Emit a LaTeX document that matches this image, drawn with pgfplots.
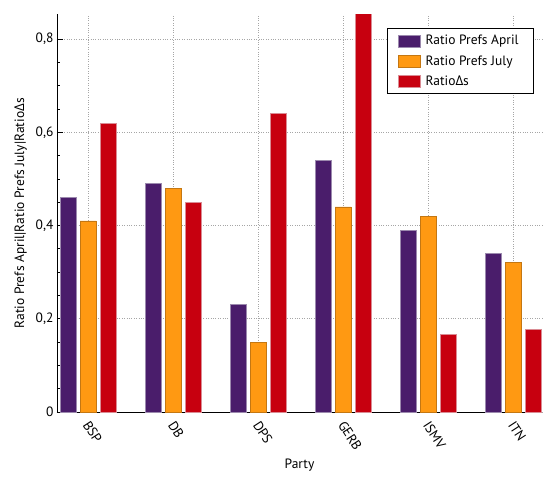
\documentclass[border=0pt]{standalone}
\usepackage{fontspec}
\setmainfont{PT Sans}
\newfontfamily\grk{Open Sans}
\usepackage{pgfplots}
\pgfplotsset{compat=1.18}
\definecolor{cpur}{HTML}{4A1D6B}
\definecolor{cora}{HTML}{FF9912}
\definecolor{cred}{HTML}{C7000F}
\definecolor{bpur}{HTML}{9C8AAE}
\definecolor{bora}{HTML}{C47712}
\definecolor{bred}{HTML}{DA8C94}
\begin{document}
\begin{tikzpicture}[font=\fontsize{13.5}{16}\selectfont]
\useasboundingbox (-57pt,-65pt) rectangle (503pt,412pt);
\begin{axis}[
  at={(0,0)}, anchor=south west,
  scale only axis, width=485pt, height=397.5pt,
  axis x line=bottom, axis y line=left,
  axis line style={-, line width=0.9pt},
  xmin=-0.365, xmax=5.34,
  ymin=0, ymax=0.853,
  ybar=4pt, bar width=16pt,
  xtick={0,1,2,3,4,5},
  xticklabels={BSP,DB,DPS,GERB,ISMV,ITN},
  xticklabel style={xshift=-3.5pt, yshift=-7.5pt, rotate=-57, anchor=west},
  ytick={0,0.2,0.4,0.6,0.8},
  minor y tick num=3,
  tick align=inside,
  major tick length=6pt, minor tick length=3pt,
  tick style={black, line width=0.8pt},
  /pgf/number format/use comma,
  /pgf/number format/assume math mode=true,
  grid=major,
  major grid style={dotted, gray!70, line width=0.7pt},
  xlabel={Party},
  ylabel={Ratio Prefs April|Ratio Prefs July|Ratio{\grk Δ}s},
  xlabel style={at={(axis description cs:0.5,0)}, anchor=north, yshift=-43pt},
  ylabel style={yshift=2pt},
  legend style={at={(1,1)}, anchor=north east, xshift=-8pt, yshift=-13.5pt,
    draw=black, line width=0.8pt, row sep=5pt, inner xsep=10pt, inner ysep=5pt,
    nodes={inner xsep=5pt}},
  legend cell align=left,
  legend image code/.code={\draw[#1, line width=0.8pt] (0pt,-6pt) rectangle (22pt,6pt);},
  clip=true,
]
\addplot[fill=cpur, draw=bpur, line width=0.8pt] coordinates {(0,0.46) (1,0.49) (2,0.23) (3,0.54) (4,0.39) (5,0.34)};
\addplot[fill=cora, draw=bora, line width=0.8pt] coordinates {(0,0.41) (1,0.48) (2,0.15) (3,0.44) (4,0.42) (5,0.32)};
\addplot[fill=cred, draw=bred, line width=0.8pt] coordinates {(0,0.62) (1,0.45) (2,0.64) (3,0.87) (4,0.166) (5,0.177)};
\legend{Ratio Prefs April, Ratio Prefs July, Ratio{\grk Δ}s}
\end{axis}
\end{tikzpicture}
\end{document}
